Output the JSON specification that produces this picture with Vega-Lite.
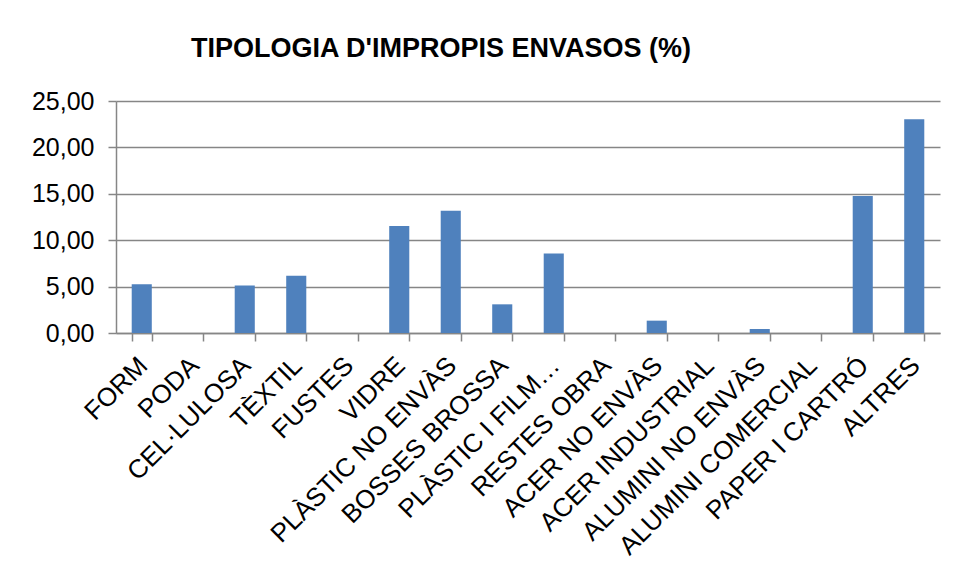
{
  "$schema": "https://vega.github.io/schema/vega-lite/v6.json",
  "width": 824,
  "height": 232,
  "autosize": {"type": "none"},
  "padding": {"left": 116, "top": 101, "right": 16, "bottom": 247},
  "background": "white",
  "title": {
    "text": "TIPOLOGIA D'IMPROPIS ENVASOS (%)",
    "font": "Liberation Sans",
    "fontSize": 27,
    "fontWeight": "bold",
    "color": "black",
    "anchor": "middle",
    "frame": "group",
    "baseline": "alphabetic",
    "offset": 5,
    "dx": -87
  },
  "data": {
    "values": [
      {"categoria": "FORM", "valor": 5.24},
      {"categoria": "PODA", "valor": 0},
      {"categoria": "CEL·LULOSA", "valor": 5.13},
      {"categoria": "TÈXTIL", "valor": 6.17},
      {"categoria": "FUSTES", "valor": 0},
      {"categoria": "VIDRE", "valor": 11.52},
      {"categoria": "PLÀSTIC NO ENVÀS", "valor": 13.17},
      {"categoria": "BOSSES BROSSA", "valor": 3.09},
      {"categoria": "PLÀSTIC I FILM…", "valor": 8.58},
      {"categoria": "RESTES OBRA", "valor": 0},
      {"categoria": "ACER NO ENVÀS", "valor": 1.33},
      {"categoria": "ACER INDUSTRIAL", "valor": 0},
      {"categoria": "ALUMINI NO ENVÀS", "valor": 0.43},
      {"categoria": "ALUMINI COMERCIAL", "valor": 0},
      {"categoria": "PAPER I CARTRÓ", "valor": 14.75},
      {"categoria": "ALTRES", "valor": 23.04}
    ]
  },
  "mark": {"type": "bar", "color": "#4F81BD"},
  "encoding": {
    "x": {
      "field": "categoria",
      "type": "nominal",
      "sort": null,
      "title": null,
      "scale": {"paddingInner": 0.61, "paddingOuter": 0.305},
      "axis": {
        "labelAngle": -45,
        "labelFont": "Liberation Sans",
        "labelFontSize": 26,
        "labelColor": "black",
        "labelLimit": 400,
        "labelPadding": 11,
        "labelOffset": -8,
        "tickBand": "extent",
        "tickSize": 8,
        "tickColor": "#868686",
        "tickWidth": 1.5,
        "domainColor": "#868686",
        "domainWidth": 1.5,
        "grid": false
      }
    },
    "y": {
      "field": "valor",
      "type": "quantitative",
      "title": null,
      "scale": {"domain": [0, 25], "nice": false},
      "axis": {
        "values": [0, 5, 10, 15, 20, 25],
        "format": ".2f",
        "labelFont": "Liberation Sans",
        "labelFontSize": 25,
        "labelColor": "black",
        "labelPadding": 14,
        "tickSize": 8,
        "tickColor": "#868686",
        "tickWidth": 1.5,
        "domainColor": "#868686",
        "domainWidth": 1.5,
        "grid": true,
        "gridColor": "#868686",
        "gridWidth": 1.5
      }
    }
  },
  "config": {
    "view": {"stroke": null},
    "locale": {
      "number": {"decimal": ",", "thousands": ".", "grouping": [3], "currency": ["", " €"]}
    }
  }
}
